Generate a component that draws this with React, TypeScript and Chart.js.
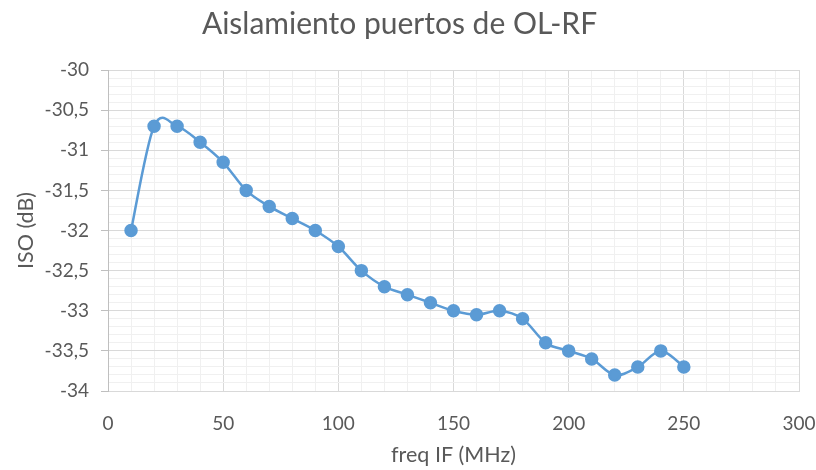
import React, { useEffect, useRef } from "react";
import { Chart, registerables } from "chart.js";

Chart.register(...registerables);

// Frecuencia IF (MHz) y aislamiento medido (dB)
const freqIF = [10, 20, 30, 40, 50, 60, 70, 80, 90, 100, 110, 120, 130, 140, 150, 160, 170, 180, 190, 200, 210, 220, 230, 240, 250];
const isoDb = [-32, -30.7, -30.7, -30.9, -31.15, -31.5, -31.7, -31.85, -32, -32.2, -32.5, -32.7, -32.8, -32.9, -33, -33.05, -33, -33.1, -33.4, -33.5, -33.6, -33.8, -33.7, -33.5, -33.7];

const titleText = "Aislamiento puertos de OL-RF";
const xTitle = "freq IF (MHz)";
const yTitle = "ISO (dB)";

const FONT = "Lato, 'Open Sans', sans-serif";
const TEXT = "#595959";
const MAJOR = "#d9d9d9";
const MINOR = "#f0f0f0";

const isMajorX = (v: number) => Math.round(v) % 50 === 0;
const isMajorY = (v: number) => Math.round(v * 10) % 5 === 0;

// Uniform Catmull-Rom style control points (each arm = 1/6 of the neighbour chord)
const smoothLine = {
  id: "smoothLine",
  afterDatasetsUpdate(chart: any) {
    chart.data.datasets.forEach((_: any, di: number) => {
      const meta = chart.getDatasetMeta(di);
      const pts = meta.data as any[];
      for (let i = 0; i < pts.length; i++) {
        const p1 = pts[i];
        const p0 = pts[i - 1] || p1;
        const p2 = pts[i + 1] || p1;
        const dx = (p2.x - p0.x) / 6;
        const dy = (p2.y - p0.y) / 6;
        p1.cp1x = p1.x - dx;
        p1.cp1y = p1.y - dy;
        p1.cp2x = p1.x + dx;
        p1.cp2y = p1.y + dy;
      }
      if (meta.dataset) meta.dataset._pointsUpdated = true;
    });
  },
};

export default function App() {
  const ref = useRef<HTMLCanvasElement>(null);

  useEffect(() => {
    document.body.style.margin = "0";
    const canvas = ref.current;
    if (!canvas) return;
    const chart = new Chart(canvas, {
      type: "scatter",
      data: {
        datasets: [
          {
            data: freqIF.map((x, i) => ({ x, y: isoDb[i] })),
            showLine: true,
            borderColor: "#5b9bd5",
            backgroundColor: "#5b9bd5",
            borderWidth: 2.5,
            pointRadius: 5.5,
            pointHoverRadius: 5.5,
            tension: 0.4,
          },
        ],
      },
      plugins: [smoothLine],
      options: {
        animation: false,
        responsive: false,
        layout: { padding: { left: 0, right: 17, top: 0, bottom: 0 } },
        plugins: {
          legend: { display: false },
          tooltip: { enabled: false },
          title: {
            display: true,
            text: titleText,
            color: TEXT,
            font: { family: FONT, size: 30, weight: "normal" },
            padding: { top: 6.5, bottom: 27.5 },
          },
        },
        scales: {
          x: {
            type: "linear",
            min: 0,
            max: 300,
            afterFit: (s: any) => {
              s.height = 79;
              s.paddingLeft = 0;
              s.paddingRight = 0;
            },
            border: { display: true, color: MAJOR },
            grid: {
              drawTicks: false,
              color: (ctx: any) => (isMajorX(ctx.tick.value) ? MAJOR : MINOR),
              lineWidth: 1,
            },
            ticks: {
              stepSize: 10,
              autoSkip: false,
              maxRotation: 0,
              maxTicksLimit: 100,
              padding: 21,
              color: TEXT,
              font: { family: FONT, size: 19 },
              callback: (v: any) => (isMajorX(Number(v)) ? String(v) : ""),
            },
            title: {
              display: true,
              text: xTitle,
              color: TEXT,
              font: { family: FONT, size: 21.5 },
              padding: { top: 0, bottom: 2 },
            },
          },
          y: {
            type: "linear",
            min: -34,
            max: -30,
            afterFit: (s: any) => {
              s.width = 108;
              s.paddingTop = 0;
              s.paddingBottom = 0;
            },
            border: { display: true, color: "#bfbfbf" },
            grid: {
              drawTicks: true,
              tickLength: 7,
              color: (ctx: any) => (isMajorY(ctx.tick.value) ? MAJOR : MINOR),
              tickColor: (ctx: any) => (isMajorY(ctx.tick.value) ? "#bfbfbf" : "rgba(0,0,0,0)"),
              lineWidth: 1,
            },
            ticks: {
              stepSize: 0.1,
              autoSkip: false,
              maxTicksLimit: 100,
              padding: 12,
              color: TEXT,
              font: { family: FONT, size: 19 },
              callback: (v: any) => {
                const n = Number(v);
                if (!isMajorY(n)) return "";
                return String(Math.round(n * 10) / 10).replace(".", ",");
              },
            },
            title: {
              display: true,
              text: yTitle,
              color: TEXT,
              font: { family: FONT, size: 21.5 },
              padding: { top: 13, bottom: 0 },
            },
          },
        },
      },
    });
    return () => chart.destroy();
  }, []);

  return <canvas ref={ref} width={816} height={470} style={{ display: "block", width: 816, height: 470 }} />;
}
